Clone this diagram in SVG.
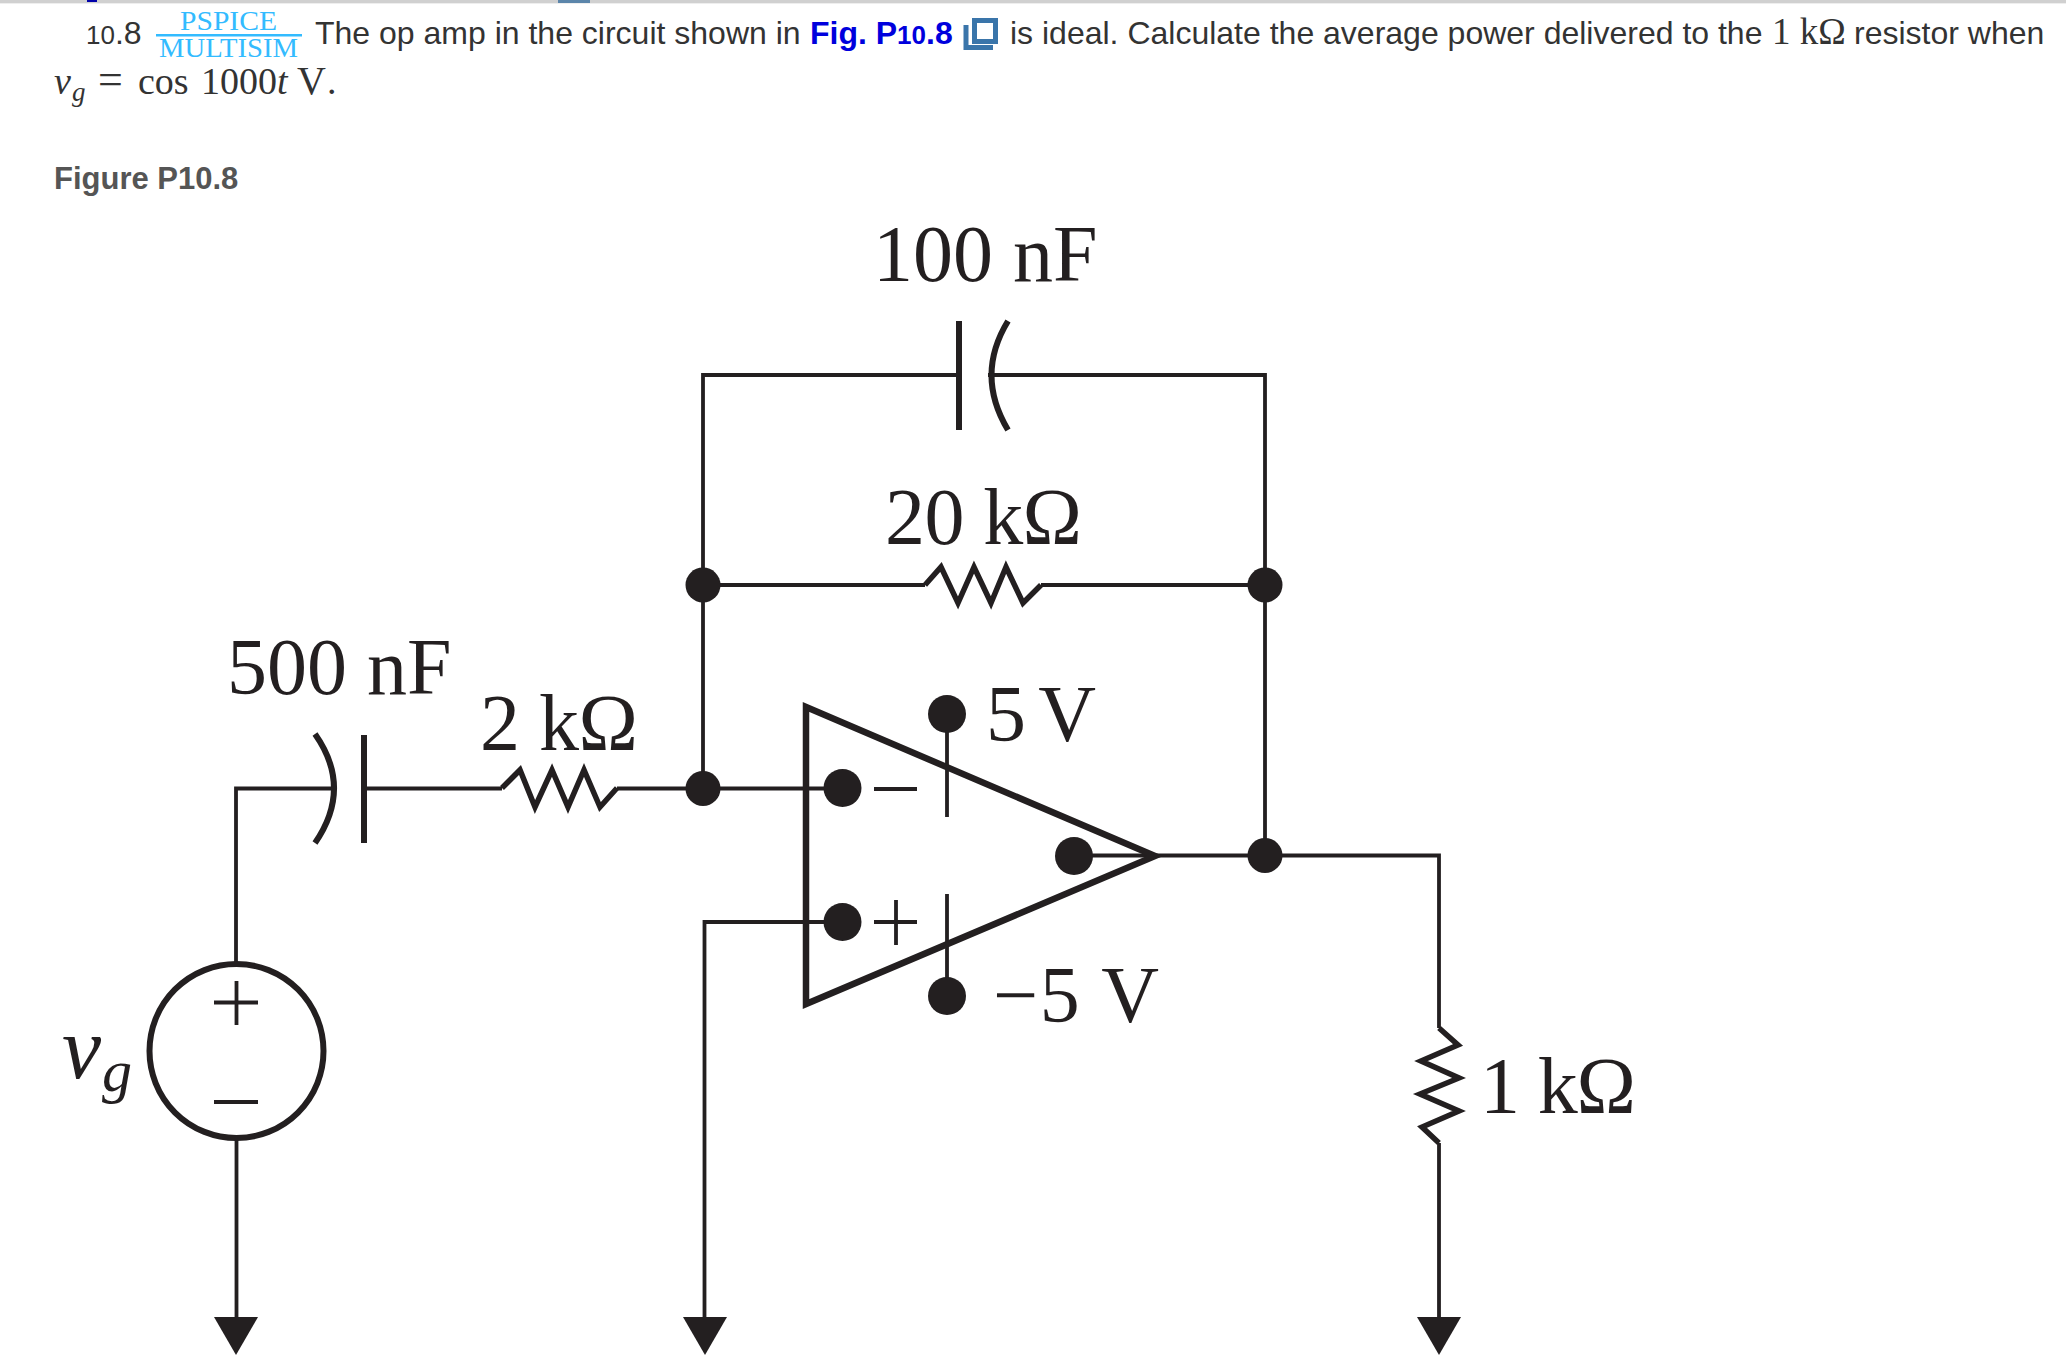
<svg xmlns="http://www.w3.org/2000/svg" width="2066" height="1366" viewBox="0 0 2066 1366">
<style>
.t{font-family:"Liberation Sans",Arial,sans-serif;font-size:32px;fill:#333}
.m{font-family:"Liberation Serif","Times New Roman",serif;fill:#333}
.p{font-family:"Liberation Serif","Times New Roman",serif;font-size:27px;fill:#33bbff}
.c{font-family:"Liberation Serif","Times New Roman",serif;font-size:80px;fill:#231f20}
.w{fill:none;stroke:#231f20;stroke-width:3.8}
.h{fill:none;stroke:#231f20;stroke-width:6}
.r{fill:none;stroke:#231f20;stroke-width:5.500}
.d{fill:#231f20}
.i{fill:none;stroke:#3a75aa;stroke-width:5}
</style>
<rect width="2066" height="1366" fill="#fff"/>
<rect x="0" y="0" width="2066" height="3" fill="#d0d0d0"/>
<rect x="0" y="3" width="2066" height="1" fill="#eee"/>
<rect x="87" y="0" width="10" height="2" fill="#0000aa"/>
<rect x="558" y="0" width="32" height="3" fill="#5b85aa"/>
<g id="statement">
<text class="t" x="86" y="44"><tspan font-size="26">10</tspan>.8</text>
<text class="p" x="180" y="30" textLength="97" lengthAdjust="spacingAndGlyphs">PSPICE</text>
<rect x="156" y="34" width="146" height="2.500" fill="#33bbff"/>
<text class="p" x="159" y="57" textLength="139" lengthAdjust="spacingAndGlyphs">MULTISIM</text>
<text class="t" x="315" y="44">The op amp in the circuit shown in</text>
<text class="t" x="810" y="44" font-weight="bold" style="fill:#0000dd">Fig. P<tspan font-size="26">10</tspan>.8</text>
<path class="i" d="M966 25V47.500H993"/>
<rect class="i" x="974.500" y="20.500" width="21" height="21"/>
<text class="t" x="1010" y="44">is ideal. Calculate the average power delivered to the</text>
<text class="m" x="1772" y="44" font-size="37">1 kΩ</text>
<text class="t" x="1854" y="44">resistor when</text>
<text class="m" y="93.500" font-size="38"><tspan x="54" font-style="italic">v</tspan><tspan x="72" dy="7" font-size="27" font-style="italic">g</tspan><tspan x="98" dy="-7" font-size="44">=</tspan><tspan x="138">cos</tspan><tspan x="201">1000</tspan><tspan font-style="italic">t</tspan><tspan x="297" font-size="40">V</tspan><tspan x="327">.</tspan></text>
<text class="t" x="54" y="189" font-weight="bold" style="fill:#555;font-size:31px">Figure P10.8</text>
</g>
<g id="connectors">
<path class="w" d="M236 962V788.500H333M364 788.500H502M617 788.500H842"/>
<path class="w" d="M703 788.500V375H959M988 375H1265V855"/>
<path class="w" d="M703 585H925M1041 585H1265"/>
<path class="w" d="M1074 855.500H1439V1028M1439 1143V1320"/>
<path class="w" d="M842 922H704.500V1320"/>
<path class="w" d="M236.500 1140V1320"/>
<path class="w" d="M947 714V817M947 894V996"/>
</g>
<g id="opamp">
<path class="h" d="M806 707V1004L1155 856Z" stroke-miterlimit="10" style="stroke-width:6.500"/>
<circle class="d" cx="842.500" cy="788" r="19"/>
<circle class="d" cx="842.500" cy="922" r="19"/>
<circle class="d" cx="1074" cy="856" r="19"/>
<circle class="d" cx="947" cy="714" r="19"/>
<circle class="d" cx="947" cy="996" r="19"/>
<path class="w" d="M874 789H917M874 922H917M896 900V945"/>
<text class="c" x="986" y="741" textLength="110">5 V</text>
<text class="c" x="993" y="1022" textLength="166">−5 V</text>
</g>
<g id="c-100nf">
<path class="h" d="M959 321V430M1008 321Q975 375 1008 430"/>
<text class="c" x="873" y="281">100 nF</text>
</g>
<g id="r-20k">
<path class="r" d="M925 585L941 567L958 603L974 567L991 603L1006 567L1023 603L1041 585"/>
<text class="c" x="885" y="544" textLength="197">20 kΩ</text>
</g>
<g id="c-500nf">
<path class="h" d="M315 734Q353 788 315 843M364 735V843"/>
<text class="c" x="227" y="694">500 nF</text>
</g>
<g id="r-2k">
<path class="r" d="M502 788L520 770L535 807L552 770L568 807L584 770L600 807L617 788"/>
<text class="c" x="480" y="750" textLength="158">2 kΩ</text>
</g>
<g id="source">
<circle class="h" cx="236.500" cy="1051" r="87"/>
<path class="w" d="M214 1002.500H258M236.500 981V1025M214 1102H258"/>
<text class="c" x="62" y="1078" font-style="italic" style="font-size:88px">v<tspan font-size="60" dx="1" dy="13">g</tspan></text>
</g>
<g id="r-1k">
<path class="r" d="M1439 1028L1458 1045L1421 1061L1459 1078L1420 1094L1459 1111L1422 1127L1439 1143"/>
<text class="c" x="1480" y="1113" textLength="156">1 kΩ</text>
</g>
<g id="junctions">
<circle class="d" cx="703" cy="788.500" r="17.500"/>
<circle class="d" cx="703" cy="585" r="17.500"/>
<circle class="d" cx="1265" cy="585" r="17.500"/>
<circle class="d" cx="1265" cy="855.500" r="17.500"/>
</g>
<g id="grounds">
<path class="d" d="M214 1317H258L236 1355Z"/>
<path class="d" d="M683 1317H727L705 1355Z"/>
<path class="d" d="M1417 1317H1461L1439 1355Z"/>
</g>
</svg>
